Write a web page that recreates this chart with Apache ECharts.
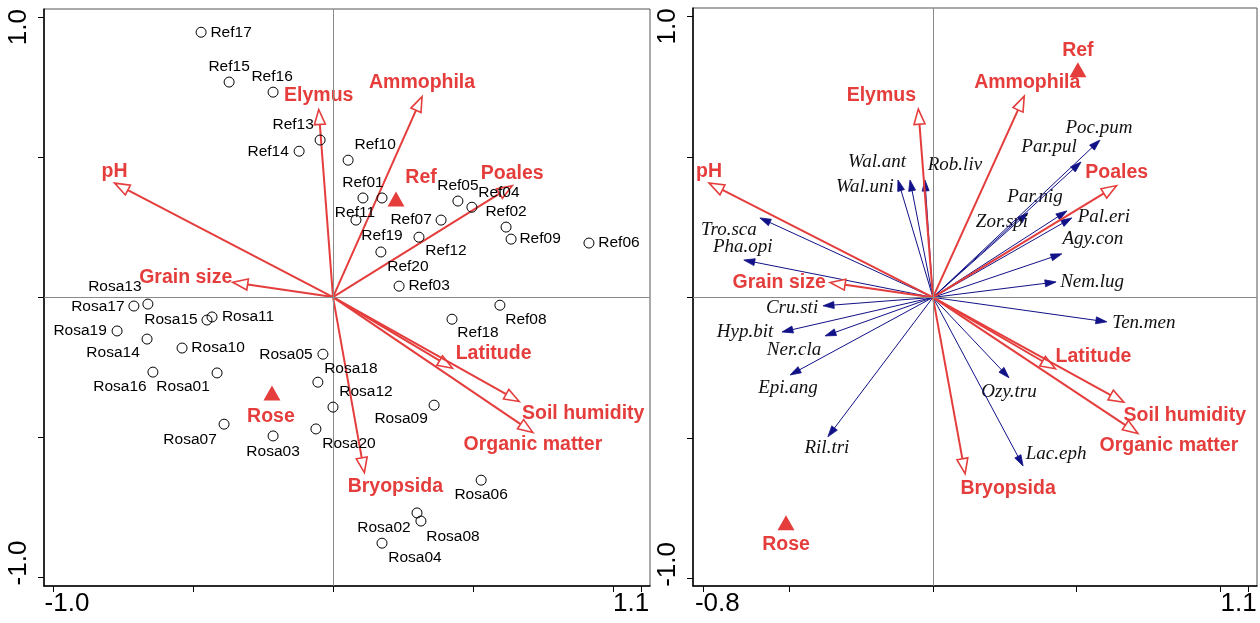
<!DOCTYPE html>
<html>
<head>
<meta charset="utf-8">
<script src="https://cdn.jsdelivr.net/npm/echarts@6/dist/echarts.min.js"></script>
<style>
  html, body { margin: 0; padding: 0; background: #fff; }
  #chart { width: 1260px; height: 623px; }
</style>
</head>
<body>
<div id="chart"></div>
<script>
// ---- Site scores on the first two ordination axes ----
const siteNames = [
  'Ref01','Ref02','Ref03','Ref04','Ref05','Ref06','Ref07','Ref08','Ref09','Ref10',
  'Ref11','Ref12','Ref13','Ref14','Ref15','Ref16','Ref17','Ref18','Ref19','Ref20',
  'Rosa01','Rosa02','Rosa03','Rosa04','Rosa05','Rosa06','Rosa07','Rosa08','Rosa09','Rosa10',
  'Rosa11','Rosa12','Rosa13','Rosa14','Rosa15','Rosa16','Rosa17','Rosa18','Rosa19','Rosa20'
];
const siteAxis1 = [
  0.107, 0.618, 0.236, 0.496, 0.446, 0.914, 0.386, 0.596, 0.636, 0.054,
  0.082, 0.307, -0.046, -0.121, -0.371, -0.214, -0.471, 0.425, 0.175, 0.171,
  -0.414, 0.300, -0.214, 0.175, -0.036, 0.529, -0.389, 0.314, 0.361, -0.539,
  -0.432, 0.000, -0.661, -0.664, -0.450, -0.643, -0.711, -0.054, -0.771, -0.061
];
const siteAxis2 = [
  0.354, 0.250, 0.039, 0.321, 0.343, 0.193, 0.275, -0.029, 0.207, 0.489,
  0.275, 0.214, 0.561, 0.521, 0.768, 0.732, 0.946, -0.079, 0.354, 0.161,
  -0.271, -0.771, -0.496, -0.879, -0.204, -0.654, -0.454, -0.800, -0.386, -0.182,
  -0.071, -0.393, -0.025, -0.150, -0.082, -0.268, -0.032, -0.304, -0.121, -0.471
];

// ---- Group centroids (sites plot / species plot) ----
const groupNames = ['Ref', 'Rose'];
const groupSiteAxis1 = [0.225, -0.218];
const groupSiteAxis2 = [0.350, -0.343];
const groupSpeciesAxis1 = [0.505, -0.512];
const groupSpeciesAxis2 = [0.810, -0.802];

// ---- Explanatory variables ----
const envNames = ['pH','Grain size','Elymus','Ammophila','Poales','Latitude','Soil humidity','Organic matter','Bryopsida'];
const envAxis1 = [-0.780, -0.358, -0.051, 0.318, 0.640, 0.427, 0.665, 0.714, 0.112];
const envAxis2 = [ 0.407,  0.053,  0.670, 0.716, 0.398, -0.254, -0.373, -0.484, -0.627];

// ---- Species ----
const speciesNames = ['Wal.ant','Wal.uni','Rob.liv','Tro.sca','Pha.opi','Cru.sti','Hyp.bit','Ner.cla','Epi.ang','Ril.tri',
  'Ten.men','Ozy.tru','Lac.eph','Nem.lug','Agy.con','Pal.eri','Par.nig','Zor.spi','Par.pul','Poc.pum'];
const speciesAxis1 = [-0.080, -0.122, -0.028, -0.603, -0.659, -0.383, -0.526, -0.376, -0.498, -0.366,
  0.606, 0.265, 0.314, 0.429, 0.449, 0.484, 0.467, 0.331, 0.516, 0.582];
const speciesAxis2 = [0.418, 0.418, 0.418, 0.283, 0.133, -0.030, -0.123, -0.137, -0.276, -0.496,
  -0.087, -0.286, -0.600, 0.055, 0.155, 0.283, 0.308, 0.301, 0.482, 0.560];

// ---- Axis ticks and tick labels ----
const sitesXTicks = [-1.0, -0.5, 0, 0.5, 1.0, 1.1];
const sitesXLabels = ['-1.0', '1.1'];
const speciesXTicks = [-0.8, -0.5, 0, 0.5, 1.0, 1.1];
const speciesXLabels = ['-0.8', '1.1'];
const yTicks = [-1.0, -0.5, 0, 0.5, 1.0];
const yLabels = ['-1.0', '1.0'];

// ---- Label placement (pixel offsets of label centre from the mark) ----
const siteLabelOffset = {
  Ref17:[30,0], Ref15:[0,-15], Ref16:[-1,-15], Ref13:[-27,-15], Ref14:[-31,0], Ref10:[27,-15],
  Ref01:[0,-15], Ref11:[-1,-7], Ref07:[-30,0], Ref19:[0,38], Ref12:[27,14], Ref20:[27,15],
  Ref03:[30,0], Ref05:[0,-15], Ref04:[27,-14], Ref02:[0,-15], Ref09:[29,0], Ref06:[30,0],
  Ref08:[26,15], Ref18:[26,14],
  Rosa13:[-33,-17], Rosa17:[-36,1], Rosa19:[-37,0], Rosa14:[-34,14], Rosa15:[-36,0], Rosa11:[36,0],
  Rosa10:[36,0], Rosa16:[-33,15], Rosa01:[-34,14], Rosa07:[-34,16], Rosa03:[0,16], Rosa05:[-37,1],
  Rosa18:[33,-13], Rosa12:[33,-15], Rosa20:[33,15], Rosa09:[-33,14], Rosa06:[0,15], Rosa02:[-33,15],
  Rosa08:[32,16], Rosa04:[33,15]
};
const groupLabelOffsetSites = { Ref:[25,-21], Rose:[-1,24] };
const groupLabelOffsetSpecies = { Ref:[0,-19], Rose:[0,22] };
const envLabelOffsetSites = {
  'pH':[0,-12], 'Grain size':[-47,-5], 'Elymus':[0,-14], 'Ammophila':[0,-14], 'Poales':[0,-12],
  'Latitude':[41,-15], 'Soil humidity':[64,12], 'Organic matter':[0,12], 'Bryopsida':[31,14]
};
const envLabelOffsetSpecies = {
  'pH':[0,-11], 'Grain size':[-51,0], 'Elymus':[-37,-14], 'Ammophila':[3,-14], 'Poales':[0,-13],
  'Latitude':[38,-12], 'Soil humidity':[61,13], 'Organic matter':[31,12], 'Bryopsida':[43,15]
};
const speciesLabelOffset = {
  'Wal.ant':[-33,-18], 'Wal.uni':[-33,7], 'Rob.liv':[30,-15], 'Tro.sca':[-31,12], 'Pha.opi':[-1,-13],
  'Cru.sti':[-31,2], 'Hyp.bit':[-37,0], 'Ner.cla':[-31,14], 'Epi.ang':[-2,13], 'Ril.tri':[-1,11],
  'Ten.men':[37,1], 'Ozy.tru':[0,14], 'Lac.eph':[33,-12], 'Nem.lug':[36,0], 'Agy.con':[31,-15],
  'Pal.eri':[32,-1], 'Par.nig':[-32,-14], 'Zor.spi':[-26,9], 'Par.pul':[-32,-15], 'Poc.pum':[-1,-12]
};

const RED = '#e43d3c';
const NAVY = '#111188';
const SANS = '"Liberation Sans", Arial, sans-serif';
const SERIF = '"Liberation Serif", "Times New Roman", serif';

const chart = echarts.init(document.getElementById('chart'), null, { renderer: 'canvas' });

function labelRich(size) {
  const base = { fontSize: size, fontFamily: SANS, color: '#000' };
  return {
    lo: Object.assign({ padding: [0, 0, 0, 28] }, base),
    hi: Object.assign({ padding: [0, 20, 0, 0] }, base)
  };
}
function tickFormatter(labels) {
  const vals = labels.map(Number);
  return function (v) {
    const k = Math.abs(v - vals[0]) < 1e-6 ? 0 : 1;
    return (k === 0 ? '{lo|' : '{hi|') + labels[k] + '}';
  };
}
function xAxis(gridIndex, min, max, ticks, labels) {
  return {
    type: 'value', gridIndex, min, max,
    axisLine: { show: true, onZero: false, lineStyle: { color: '#000', width: 1.5 } },
    axisTick: { show: true, inside: false, length: 6, customValues: ticks, lineStyle: { color: '#000', width: 1 } },
    axisLabel: { show: true, customValues: labels.map(Number), margin: 5, formatter: tickFormatter(labels),
      rich: labelRich(26), fontSize: 26, fontFamily: SANS, color: '#000' },
    splitLine: { show: false }
  };
}
function yAxis(gridIndex, min, max) {
  return {
    type: 'value', gridIndex, min, max,
    axisLine: { show: true, onZero: false, lineStyle: { color: '#000', width: 1.5 } },
    axisTick: { show: true, inside: false, length: 6, customValues: yTicks, lineStyle: { color: '#000', width: 1 } },
    axisLabel: { show: true, customValues: yLabels.map(Number), rotate: 90, margin: 12, formatter: tickFormatter(yLabels),
      rich: labelRich(26), fontSize: 26, fontFamily: SANS, color: '#000' },
    splitLine: { show: false }
  };
}

// Arrows from the origin: open heads for explanatory variables, filled heads for species
function arrowSeries(idx, names, xs, ys, offsets, kind) {
  const env = kind === 'env';
  const headLen = env ? 15 : 11;
  const headHalf = env ? 5.5 : 3.5;
  return {
    type: 'custom', xAxisIndex: idx, yAxisIndex: idx, silent: true, clip: false,
    z: env ? 4 : 3,
    data: names.map((n, i) => [xs[i], ys[i], i]),
    renderItem(params, api) {
      const i = api.value(2);
      const o = api.coord([0, 0]);
      const t = api.coord([api.value(0), api.value(1)]);
      const dx = t[0] - o[0], dy = t[1] - o[1];
      const L = Math.hypot(dx, dy);
      const ux = dx / L, uy = dy / L;
      const bx = t[0] - ux * headLen, by = t[1] - uy * headLen;
      const px = -uy, py = ux;
      const off = offsets[names[i]] || [0, 0];
      const col = env ? RED : NAVY;
      return {
        type: 'group',
        children: [
          { type: 'line', shape: { x1: o[0], y1: o[1], x2: env ? bx : bx + ux * 2, y2: env ? by : by + uy * 2 },
            style: { stroke: col, lineWidth: env ? 2 : 1 } },
          { type: 'polygon', shape: { points: [[t[0], t[1]], [bx + px * headHalf, by + py * headHalf], [bx - px * headHalf, by - py * headHalf]] },
            style: env ? { fill: '#fff', stroke: col, lineWidth: 1.6 } : { fill: col, stroke: col, lineWidth: 0.8 } },
          { type: 'text', x: t[0] + off[0], y: t[1] + off[1],
            style: env
              ? { text: names[i], fill: RED, fontSize: 19.5, fontWeight: 'bold', fontFamily: SANS, align: 'center', verticalAlign: 'middle' }
              : { text: names[i], fill: '#111', fontSize: 19, fontStyle: 'italic', fontFamily: SERIF, align: 'center', verticalAlign: 'middle' } }
        ]
      };
    }
  };
}

function zeroLines(idx) {
  return {
    type: 'scatter', xAxisIndex: idx, yAxisIndex: idx, data: [], z: 1, silent: true,
    markLine: { silent: true, symbol: 'none', label: { show: false }, animation: false,
      lineStyle: { color: '#8a8a8a', width: 1, type: 'solid', opacity: 1 },
      data: [{ xAxis: 0 }, { yAxis: 0 }] }
  };
}

function groupSeries(idx, xs, ys, offsets) {
  return {
    type: 'scatter', xAxisIndex: idx, yAxisIndex: idx, z: 6, silent: true,
    symbol: 'triangle', symbolSize: [17, 15],
    itemStyle: { color: RED, opacity: 1 },
    data: groupNames.map((n, i) => ({
      name: n, value: [xs[i], ys[i]],
      label: { offset: offsets[n] }
    })),
    label: { show: true, position: 'inside', formatter: '{b}', color: RED, opacity: 1,
      fontSize: 19.5, fontWeight: 'bold', fontFamily: SANS }
  };
}

const option = {
  animation: false,
  backgroundColor: '#fff',
  grid: [
    { left: 44, top: 9, width: 606, height: 577, show: true, borderColor: '#555', borderWidth: 1 },
    { left: 693, top: 8, width: 564, height: 578, show: true, borderColor: '#555', borderWidth: 1 }
  ],
  xAxis: [
    xAxis(0, -1.032, 1.132, sitesXTicks, sitesXLabels),
    xAxis(1, -0.836, 1.129, speciesXTicks, speciesXLabels)
  ],
  yAxis: [
    yAxis(0, -1.032, 1.029),
    yAxis(1, -1.027, 1.030)
  ],
  series: [
    zeroLines(0),
    zeroLines(1),
    arrowSeries(0, envNames, envAxis1, envAxis2, envLabelOffsetSites, 'env'),
    {
      type: 'scatter', xAxisIndex: 0, yAxisIndex: 0, z: 5, silent: true,
      symbol: 'circle', symbolSize: 10,
      itemStyle: { color: 'rgba(0,0,0,0)', borderColor: '#000', borderWidth: 1, opacity: 1 },
      data: siteNames.map((n, i) => ({
        name: n, value: [siteAxis1[i], siteAxis2[i]],
        label: { offset: siteLabelOffset[n] }
      })),
      label: { show: true, position: 'inside', formatter: '{b}', color: '#000', opacity: 1,
        fontSize: 15.5, fontFamily: SANS }
    },
    groupSeries(0, groupSiteAxis1, groupSiteAxis2, groupLabelOffsetSites),
    arrowSeries(1, speciesNames, speciesAxis1, speciesAxis2, speciesLabelOffset, 'species'),
    arrowSeries(1, envNames, envAxis1, envAxis2, envLabelOffsetSpecies, 'env'),
    groupSeries(1, groupSpeciesAxis1, groupSpeciesAxis2, groupLabelOffsetSpecies)
  ]
};
chart.setOption(option);
</script>
</body>
</html>
